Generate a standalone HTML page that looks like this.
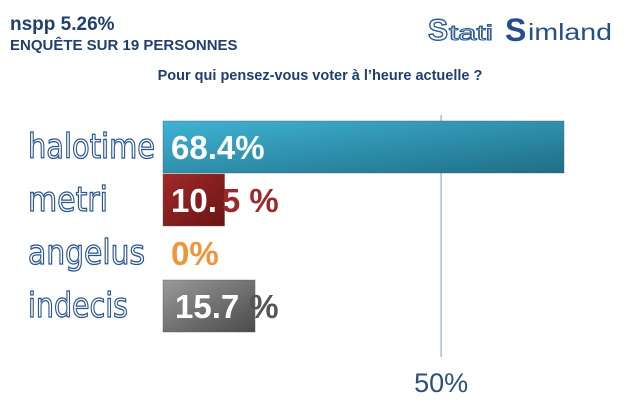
<!DOCTYPE html>
<html><head><meta charset="utf-8"><style>
body{margin:0;background:#fff;width:640px;height:403px;overflow:hidden;font-family:"Liberation Sans",sans-serif}
</style></head><body>
<svg width="640" height="403" viewBox="0 0 640 403">
<defs>
<linearGradient id="gBlue" x1="0" x2="1" y1="0" y2="1"><stop offset="0" stop-color="#3fb3d4"/><stop offset="1" stop-color="#1f6e86"/></linearGradient>
<linearGradient id="gRed" x1="0" x2="1" y1="0" y2="1"><stop offset="0" stop-color="#a02a2a"/><stop offset="1" stop-color="#6a1414"/></linearGradient>
<linearGradient id="gOrange" x1="0" x2="1"><stop offset="0" stop-color="#f5a040"/><stop offset="1" stop-color="#e0882a"/></linearGradient>
<linearGradient id="gGrey" x1="0" x2="1" y1="0" y2="1"><stop offset="0" stop-color="#9a9a9a"/><stop offset="1" stop-color="#4a4a4a"/></linearGradient>
</defs>
<text x="10" y="30" font-size="19" fill="#1f3f6e" font-weight="bold">nspp  5.26%</text>
<text x="10" y="50" font-size="15" fill="#1f3f6e" font-weight="bold">ENQUÊTE SUR 19 PERSONNES</text>
<g>
<text x="428" y="40" font-size="30" fill="#fff" stroke="#2d5a94" stroke-width="1.4" font-weight="bold">S</text>
<text x="449" y="40" font-size="21" fill="#fff" stroke="#2d5a94" stroke-width="1.1" textLength="44" lengthAdjust="spacingAndGlyphs">tati</text>
<text x="505" y="41" font-size="32" fill="#244f8a" font-weight="bold">S</text>
<text x="528" y="40" font-size="23" fill="#244f8a" textLength="84" lengthAdjust="spacingAndGlyphs">imland</text>
</g>
<text x="320" y="80" font-size="14.5" fill="#1f3f6e" font-weight="bold" text-anchor="middle">Pour qui pensez-vous voter à l’heure actuelle ?</text>
<g id="chart"></g>
</svg>
<script>
const categories=["halotime","metri","angelus","indecis"];
const values=[68.4,10.5,0,15.7];
const valueLabels=["68.4%","10.5 %","0%","15.7 %"];
const refValue=50;
const refLabel="50%";
const fills=["url(#gBlue)","url(#gRed)","url(#gOrange)","url(#gGrey)"];
const labelWidths=[127,80,117,100];
const x0=163,pxPer=401/68.4;
const x=v=>x0+v*pxPer;
const rowY=i=>121+i*53;
const bh=52;
const NS="http://www.w3.org/2000/svg";
const g=document.getElementById('chart');
function mk(t,a){const e=document.createElementNS(NS,t);for(const k in a)e.setAttribute(k,a[k]);g.appendChild(e);return e;}
const rx=x(refValue)-15;
const rl=mk('line',{x1:rx,x2:rx,y1:115,y2:357,stroke:'#a8bcd8','stroke-width':1.5});


const rt=mk('text',{x:rx,y:392,'font-size':27,fill:'#2d4f7c','text-anchor':'middle'});
rt.textContent=refLabel;


categories.forEach((c,i)=>{
 const y=rowY(i);
 const lab=mk('text',{x:28,y:y+37,'font-size':34,fill:'#fff',stroke:'#2a5590','stroke-width':1.3,'font-family':'"DejaVu Sans",sans-serif',textLength:labelWidths[i],lengthAdjust:'spacingAndGlyphs'});
 lab.textContent=c;
 
 
 const w=x(values[i])-x0;
 if(w>0){
  const r=mk('rect',{x:x0,y:y,width:w,height:bh,fill:fills[i],stroke:'#555','stroke-opacity':0.4});
  
  
 }
 const col=i==0?'#fff':i==1?'#9a2a2a':i==2?'#f0963a':'#555';
 const t=mk('text',{x:x0+(i==3?12:8),y:y+38,'font-size':33,'font-weight':'bold',fill:col});
 if(i==1||i==3){
  const s=valueLabels[i].split(' ');
  const whitePart=i==1?s[0].slice(0,3):s[0];
  const rest=i==1?s[0].slice(3)+' %':'%';
  const a=document.createElementNS(NS,'tspan');a.setAttribute('fill','#fff');a.textContent=whitePart;t.appendChild(a);
  const b=document.createElementNS(NS,'tspan');b.setAttribute('dx',i==1?5:10);b.textContent=rest;t.appendChild(b);
 } else t.textContent=valueLabels[i];
 
 
});
</script>
</body></html>
